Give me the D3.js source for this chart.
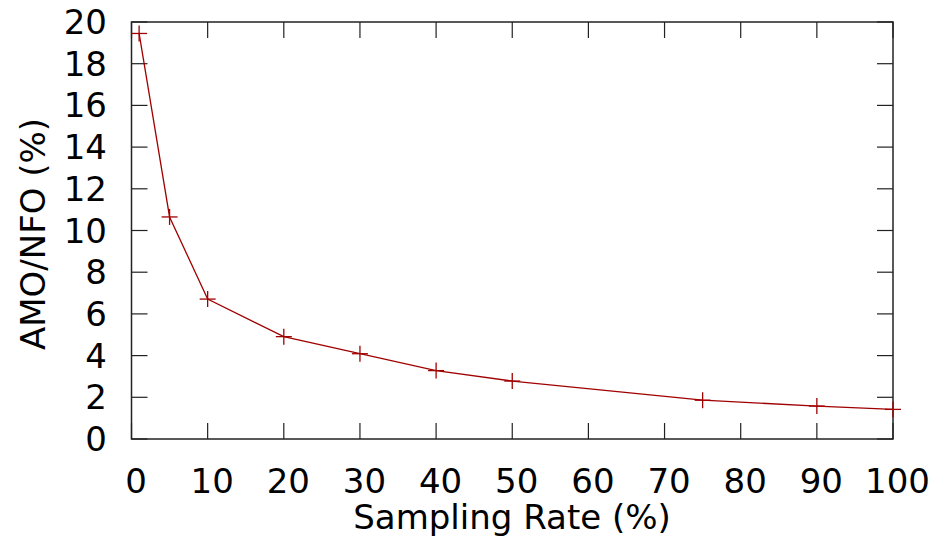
<!DOCTYPE html>
<html><head><meta charset="utf-8">
<script src="https://cdn.jsdelivr.net/npm/d3@7/dist/d3.min.js"></script>
<style>body{margin:0;background:#fff}</style>
</head><body><svg id="c" width="950" height="542"></svg>
<script>
const samplingRate = [1, 5, 10, 20, 30, 40, 50, 75, 90, 100];
const amoNfo = [19.45, 10.65, 6.71, 4.91, 4.09, 3.28, 2.78, 1.86, 1.58, 1.42];
const xTicks = [0,10,20,30,40,50,60,70,80,90,100];
const yTicks = [0,2,4,6,8,10,12,14,16,18,20];

const svg = d3.select("#c");
const L=131.5, R=893, T=22, B=439;
const x = d3.scaleLinear().domain([0,100]).range([L,R]);
const y = d3.scaleLinear().domain([0,20]).range([B,T]);
const font = "DejaVu Sans, sans-serif";
const fs = 34;
const tl = 16;

// ticks (inward, mirrored)
const g = svg.append("g").attr("stroke","#222").attr("stroke-width",1.2);
xTicks.forEach(v=>{
  g.append("line").attr("x1",x(v)).attr("x2",x(v)).attr("y1",B).attr("y2",B-tl);
  g.append("line").attr("x1",x(v)).attr("x2",x(v)).attr("y1",T).attr("y2",T+tl);
});
yTicks.forEach(v=>{
  g.append("line").attr("x1",L).attr("x2",L+tl).attr("y1",y(v)).attr("y2",y(v));
  g.append("line").attr("x1",R).attr("x2",R-tl).attr("y1",y(v)).attr("y2",y(v));
});
svg.append("rect").attr("x",L).attr("y",T).attr("width",R-L).attr("height",B-T)
  .attr("fill","none").attr("stroke","#222").attr("stroke-width",1.5);

// tick labels
svg.append("g").selectAll("text").data(xTicks).join("text")
  .attr("x",d=>x(d)+4.5).attr("y",493).attr("text-anchor","middle")
  .attr("font-family",font).attr("font-size",fs).text(d=>d);
svg.append("g").selectAll("text").data(yTicks).join("text")
  .attr("x",107).attr("y",d=>y(d)+12).attr("text-anchor","end")
  .attr("font-family",font).attr("font-size",fs).text(d=>d);

svg.append("text").attr("x",512).attr("y",529).attr("text-anchor","middle")
  .attr("font-family",font).attr("font-size",fs).text("Sampling Rate (%)");
svg.append("text").attr("transform",`translate(45,234) rotate(-90)`).attr("text-anchor","middle")
  .attr("font-family",font).attr("font-size",fs).text("AMO/NFO (%)");

// series
const pts = samplingRate.map((d,i)=>[d,amoNfo[i]]);
const col = "#a00000";
svg.append("path").datum(pts)
  .attr("d",d3.line().x(d=>x(d[0])).y(d=>y(d[1])))
  .attr("fill","none").attr("stroke",col).attr("stroke-width",1.3);
const m = 8;
const mk = svg.append("g").attr("stroke",col).attr("stroke-width",1.3);
pts.forEach(p=>{
  const px=x(p[0]), py=y(p[1]);
  mk.append("line").attr("x1",px-m).attr("x2",px+m).attr("y1",py).attr("y2",py);
  mk.append("line").attr("x1",px).attr("x2",px).attr("y1",py-m).attr("y2",py+m);
});
</script></body></html>
